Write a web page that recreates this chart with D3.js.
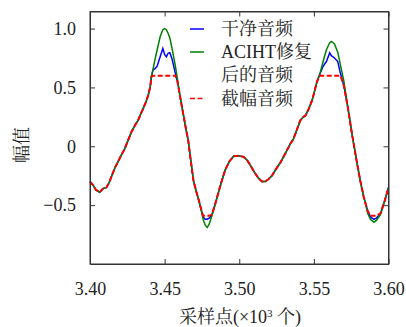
<!DOCTYPE html>
<html>
<head>
<meta charset="utf-8">
<script src="https://cdn.jsdelivr.net/npm/d3@7"></script>
<style>
  body { margin: 0; background: #fff; }
  svg { display: block; }
  svg text { font-family: "Liberation Serif", "DejaVu Serif", "Noto Serif CJK SC", "Noto Sans CJK SC", serif !important; fill: #222; }
  .axis path, .axis line { stroke: #333; }
</style>
</head>
<body>
<svg></svg>
<script>
// sample position (x10^3)
const samples = [3.400, 3.402, 3.404, 3.4065, 3.4087, 3.411, 3.4128, 3.4143, 3.4168, 3.4188,
  3.4208, 3.4233, 3.4255, 3.4277, 3.4302, 3.4322, 3.4342, 3.4356, 3.4376, 3.4389,
  3.4403, 3.4411, 3.4423, 3.4436, 3.4450, 3.4470, 3.4488, 3.4500, 3.4512, 3.4523,
  3.4535, 3.4550, 3.4572, 3.4586, 3.4604, 3.4624, 3.4644, 3.4658, 3.4671, 3.4693,
  3.4711, 3.4727, 3.4750, 3.4758, 3.4772, 3.4785, 3.4799, 3.4817, 3.4839, 3.4859,
  3.4879, 3.4906, 3.4933, 3.4962, 3.4993, 3.5029, 3.5054, 3.5074, 3.5101, 3.5128,
  3.5152, 3.5174, 3.5195, 3.5219, 3.5248, 3.5275, 3.5309, 3.5342, 3.5364, 3.5383,
  3.5409, 3.5430, 3.5443, 3.5463, 3.5488, 3.5503, 3.5521, 3.5539, 3.5562, 3.5584,
  3.5606, 3.5617, 3.5638, 3.5660, 3.5678, 3.5700, 3.5725, 3.5756, 3.5790, 3.5812,
  3.5834, 3.5861, 3.5879, 3.5902, 3.5919, 3.5946, 3.5973, 3.600]

const clean = [-0.30, -0.33, -0.37, -0.39, -0.36, -0.35, -0.31, -0.26, -0.18, -0.13,
  -0.08, -0.02, 0.05, 0.12, 0.18, 0.22, 0.28, 0.32, 0.38, 0.43,
  0.50, 0.59, 0.65, 0.66, 0.68, 0.76, 0.83, 0.78, 0.76, 0.79,
  0.795, 0.74, 0.62, 0.55, 0.42, 0.28, 0.14, 0.05, -0.08, -0.29,
  -0.38, -0.45, -0.56, -0.60, -0.62, -0.62, -0.61, -0.58, -0.49, -0.40,
  -0.31, -0.20, -0.13, -0.085, -0.08, -0.09, -0.12, -0.16, -0.22, -0.27,
  -0.30, -0.30, -0.28, -0.25, -0.19, -0.14, -0.06, 0.02, 0.065, 0.13,
  0.22, 0.25, 0.26, 0.31, 0.39, 0.46, 0.55, 0.61, 0.68, 0.72,
  0.795, 0.77, 0.75, 0.72, 0.62, 0.52, 0.35, 0.10, -0.15, -0.30,
  -0.43, -0.55, -0.60, -0.62, -0.61, -0.57, -0.47, -0.35]

const aciht = [-0.30, -0.33, -0.37, -0.39, -0.36, -0.35, -0.31, -0.26, -0.18, -0.13,
  -0.08, -0.02, 0.05, 0.12, 0.18, 0.22, 0.28, 0.32, 0.38, 0.43,
  0.50, 0.59, 0.66, 0.74, 0.82, 0.93, 0.99, 1.00, 0.99, 0.96,
  0.92, 0.83, 0.68, 0.57, 0.42, 0.28, 0.14, 0.05, -0.08, -0.29,
  -0.38, -0.45, -0.57, -0.62, -0.67, -0.69, -0.66, -0.59, -0.49, -0.40,
  -0.31, -0.20, -0.13, -0.085, -0.08, -0.09, -0.12, -0.16, -0.22, -0.27,
  -0.30, -0.30, -0.28, -0.25, -0.19, -0.14, -0.06, 0.02, 0.065, 0.13,
  0.22, 0.25, 0.26, 0.31, 0.39, 0.46, 0.55, 0.61, 0.72, 0.82,
  0.88, 0.89, 0.87, 0.80, 0.69, 0.56, 0.35, 0.10, -0.15, -0.30,
  -0.43, -0.57, -0.62, -0.645, -0.63, -0.58, -0.47, -0.35]

const clipped = [-0.30, -0.33, -0.37, -0.39, -0.36, -0.35, -0.31, -0.26, -0.18, -0.13,
  -0.08, -0.02, 0.05, 0.12, 0.18, 0.22, 0.28, 0.32, 0.38, 0.43,
  0.50, 0.59, 0.60, 0.60, 0.60, 0.60, 0.60, 0.60, 0.60, 0.60,
  0.60, 0.60, 0.60, 0.55, 0.42, 0.28, 0.14, 0.05, -0.08, -0.29,
  -0.38, -0.45, -0.56, -0.59, -0.59, -0.59, -0.59, -0.58, -0.49, -0.40,
  -0.31, -0.20, -0.13, -0.085, -0.08, -0.09, -0.12, -0.16, -0.22, -0.27,
  -0.30, -0.30, -0.28, -0.25, -0.19, -0.14, -0.06, 0.02, 0.065, 0.13,
  0.22, 0.25, 0.26, 0.31, 0.39, 0.46, 0.55, 0.60, 0.60, 0.60,
  0.60, 0.60, 0.60, 0.60, 0.60, 0.52, 0.35, 0.10, -0.15, -0.30,
  -0.43, -0.55, -0.59, -0.59, -0.59, -0.57, -0.47, -0.35]

const xTicks = [3.40, 3.45, 3.50, 3.55, 3.60]
const yTicks = [1.0, 0.5, 0, -0.5]
const seriesNames = ["干净音频", "ACIHT修复", "截幅音频"]

const W = 406, H = 327
const mLeft = 90, mRight = 388.5, mTop = 11.5, mBottom = 264

const svg = d3.select("svg")
	.attr("width", W)
	.attr("height", H)

const x = d3.scaleLinear().domain([3.40, 3.60]).range([mLeft, mRight])
const y = d3.scaleLinear().domain([-1.0, 1.145]).range([mBottom, mTop])

const fmtY = d => d === 0 ? "0" : d3.format(".1f")(d).replace("-", "\u2212")

// axes, ticks pointing inward
const axisB = d3.axisBottom(x).tickValues(xTicks).tickSizeInner(-5).tickSizeOuter(0).tickPadding(18).tickFormat(d3.format(".2f"))
const axisT = d3.axisTop(x).tickValues(xTicks).tickSizeInner(-5).tickSizeOuter(0).tickFormat("")
const axisL = d3.axisLeft(y).tickValues(yTicks).tickSizeInner(-5).tickSizeOuter(0).tickPadding(14).tickFormat(fmtY)
const axisR = d3.axisRight(y).tickValues(yTicks).tickSizeInner(-5).tickSizeOuter(0).tickFormat("")

const line = d3.line()
	.x((d, i) => x(samples[i]))
	.y(d => y(d))

const plot = svg.append("g")

plot.append("path").datum(clean)
	.attr("d", line).attr("fill", "none")
	.attr("stroke", "#0000ff").attr("stroke-width", 1.5)

plot.append("path").datum(aciht)
	.attr("d", line).attr("fill", "none")
	.attr("stroke", "#008000").attr("stroke-width", 1.5)

plot.append("path").datum(clipped)
	.attr("d", line).attr("fill", "none")
	.attr("stroke", "#ff0000").attr("stroke-width", 2)
	.attr("stroke-dasharray", "5,2.5")

svg.append("g").attr("class", "axis").attr("transform", `translate(0,${mBottom})`).call(axisB)
svg.append("g").attr("class", "axis").attr("transform", `translate(0,${mTop})`).call(axisT)
svg.append("g").attr("class", "axis").attr("transform", `translate(${mLeft},0)`).call(axisL)
svg.append("g").attr("class", "axis").attr("transform", `translate(${mRight},0)`).call(axisR)

svg.selectAll(".axis").attr("font-family", null).attr("font-size", null)
svg.selectAll(".axis .tick line").attr("stroke", "#333")
svg.selectAll(".axis .tick text")
	.style("font-size", "18px")
	.attr("fill", "#222")

// frame
svg.append("rect")
	.attr("x", mLeft).attr("y", mTop)
	.attr("width", mRight - mLeft).attr("height", mBottom - mTop)
	.attr("fill", "none").attr("stroke", "#333").attr("stroke-width", 1)

// axis titles
svg.append("text")
	.attr("x", 240).attr("y", 323)
	.attr("text-anchor", "middle")
	.style("font-size", "18px")
	.html('采样点(×10<tspan baseline-shift="super" font-size="11px">3</tspan> 个)')

svg.append("text")
	.attr("transform", "translate(28,145) rotate(-90)")
	.attr("text-anchor", "middle")
	.style("font-size", "18px")
	.text("幅值")

// legend
const legend = svg.append("g")
const legendRows = [
	{ label: seriesNames[0], color: "#0000ff", dash: null, y: 29 },
	{ label: seriesNames[1], color: "#008000", dash: null, y: 52 },
	{ label: seriesNames[2], color: "#ff0000", dash: "5,2.5", y: 98.5 }
]

legendRows.forEach(r => {
	legend.append("line")
		.attr("x1", 190).attr("x2", 204)
		.attr("y1", r.y).attr("y2", r.y)
		.attr("stroke", r.color).attr("stroke-width", 1.5)
		.attr("stroke-dasharray", r.dash)
	legend.append("text")
		.attr("x", 221).attr("y", r.y + 6)
		.style("font-size", "18px")
		.text(r.label)
})
legend.append("text")
	.attr("x", 221).attr("y", 81)
	.style("font-size", "18px")
	.text("后的音频")
</script>
</body>
</html>
